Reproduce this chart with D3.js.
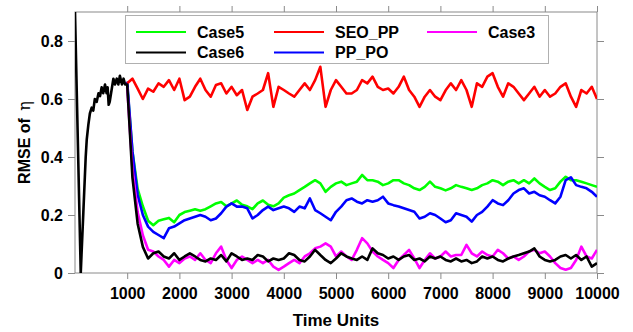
<!DOCTYPE html>
<html>
<head>
<meta charset="utf-8">
<script src="https://cdn.jsdelivr.net/npm/d3@7"></script>
<style>
  body { margin: 0; background: #fff; }
  svg { display: block; font-family: "Liberation Sans", Arial, sans-serif; }
</style>
</head>
<body>
<div id="chart"></div>
<script>
// Data

// warm-up phase (only Case6 is visible there)
const warmTimes = [0, 110, 160, 205, 225, 255, 285, 320, 350, 380, 415, 450, 480, 510, 540, 575, 605, 625, 645, 665, 700, 735, 765, 800, 830, 860, 900, 930, 960];
const case6Warm = [0.90, 0.00, 0.21, 0.40, 0.46, 0.51, 0.55, 0.57, 0.56, 0.60, 0.59, 0.62, 0.61, 0.64, 0.62, 0.65, 0.62, 0.64, 0.58, 0.59, 0.63, 0.67, 0.65, 0.67, 0.65, 0.68, 0.65, 0.67, 0.65];

// sampled every 100 time units, 1000 .. 10000
const timeStart = 1000, timeStep = 100;

const seoPP = [
  0.654, 0.670, 0.636, 0.600, 0.636, 0.625, 0.654, 0.642, 0.665, 0.631,
  0.670, 0.596, 0.608, 0.642, 0.670, 0.631, 0.608, 0.648, 0.654, 0.619,
  0.642, 0.613, 0.631, 0.562, 0.608, 0.619, 0.631, 0.689, 0.573, 0.642,
  0.631, 0.619, 0.608, 0.631, 0.654, 0.631, 0.665, 0.711, 0.573, 0.631,
  0.665, 0.642, 0.619, 0.619, 0.631, 0.665, 0.654, 0.677, 0.642, 0.631,
  0.636, 0.619, 0.642, 0.677, 0.631, 0.608, 0.573, 0.608, 0.631, 0.608,
  0.596, 0.630, 0.654, 0.631, 0.665, 0.631, 0.573, 0.654, 0.642, 0.677,
  0.689, 0.642, 0.608, 0.654, 0.642, 0.619, 0.596, 0.619, 0.642, 0.608,
  0.631, 0.608, 0.619, 0.642, 0.654, 0.608, 0.573, 0.631, 0.619, 0.642,
  0.600
];

const case5 = [
  0.650, 0.420, 0.290, 0.230, 0.180, 0.165, 0.180, 0.185, 0.190, 0.175,
  0.200, 0.210, 0.215, 0.220, 0.215, 0.220, 0.230, 0.240, 0.245, 0.230,
  0.240, 0.250, 0.235, 0.230, 0.220, 0.240, 0.250, 0.235, 0.230, 0.240,
  0.260, 0.268, 0.274, 0.286, 0.297, 0.309, 0.320, 0.309, 0.280, 0.297,
  0.309, 0.315, 0.303, 0.309, 0.315, 0.338, 0.320, 0.320, 0.315, 0.303,
  0.309, 0.320, 0.320, 0.309, 0.303, 0.292, 0.286, 0.297, 0.315, 0.297,
  0.292, 0.285, 0.292, 0.303, 0.297, 0.292, 0.286, 0.292, 0.303, 0.309,
  0.320, 0.315, 0.303, 0.315, 0.320, 0.309, 0.320, 0.309, 0.326, 0.309,
  0.297, 0.286, 0.292, 0.315, 0.332, 0.320, 0.320, 0.315, 0.309, 0.303,
  0.297
];

const ppPO = [
  0.660, 0.420, 0.270, 0.200, 0.160, 0.142, 0.131, 0.120, 0.154, 0.160,
  0.171, 0.182, 0.188, 0.194, 0.200, 0.194, 0.182, 0.188, 0.206, 0.229,
  0.240, 0.229, 0.229, 0.223, 0.188, 0.200, 0.217, 0.229, 0.217, 0.223,
  0.229, 0.223, 0.211, 0.229, 0.223, 0.257, 0.217, 0.206, 0.194, 0.182,
  0.211, 0.229, 0.251, 0.257, 0.246, 0.240, 0.251, 0.246, 0.251, 0.263,
  0.240, 0.234, 0.229, 0.223, 0.217, 0.211, 0.188, 0.194, 0.206, 0.200,
  0.188, 0.175, 0.182, 0.206, 0.200, 0.194, 0.177, 0.200, 0.211, 0.229,
  0.251, 0.240, 0.234, 0.251, 0.274, 0.286, 0.292, 0.274, 0.280, 0.268,
  0.263, 0.251, 0.240, 0.263, 0.320, 0.330, 0.303, 0.297, 0.292, 0.280,
  0.263
];

const case3 = [
  0.640, 0.360, 0.210, 0.130, 0.080, 0.074, 0.057, 0.045, 0.022, 0.045,
  0.034, 0.050, 0.057, 0.045, 0.068, 0.045, 0.034, 0.068, 0.091, 0.045,
  0.017, 0.045, 0.057, 0.045, 0.034, 0.045, 0.034, 0.045, 0.022, 0.011,
  0.022, 0.034, 0.045, 0.034, 0.057, 0.068, 0.085, 0.091, 0.102, 0.091,
  0.057, 0.074, 0.057, 0.045, 0.080, 0.120, 0.102, 0.074, 0.057, 0.045,
  0.034, 0.017, 0.045, 0.062, 0.080, 0.050, 0.017, 0.045, 0.068, 0.050,
  0.057, 0.074, 0.057, 0.062, 0.062, 0.097, 0.068, 0.057, 0.074, 0.062,
  0.057, 0.080, 0.068, 0.050, 0.057, 0.045, 0.057, 0.074, 0.080, 0.068,
  0.074, 0.057, 0.034, 0.017, 0.011, 0.017, 0.045, 0.091, 0.057, 0.050,
  0.080
];

const case6 = [
  0.650, 0.330, 0.170, 0.090, 0.050, 0.068, 0.074, 0.057, 0.050, 0.068,
  0.045, 0.057, 0.068, 0.057, 0.045, 0.040, 0.050, 0.045, 0.062, 0.040,
  0.068, 0.057, 0.045, 0.050, 0.045, 0.062, 0.057, 0.040, 0.050, 0.045,
  0.050, 0.068, 0.062, 0.045, 0.040, 0.057, 0.080, 0.062, 0.045, 0.034,
  0.050, 0.068, 0.057, 0.050, 0.045, 0.057, 0.045, 0.085, 0.068, 0.062,
  0.050, 0.057, 0.045, 0.057, 0.062, 0.045, 0.050, 0.040, 0.057, 0.050,
  0.057, 0.045, 0.040, 0.050, 0.040, 0.045, 0.034, 0.040, 0.057, 0.050,
  0.057, 0.045, 0.040, 0.050, 0.057, 0.062, 0.068, 0.074, 0.085, 0.057,
  0.045, 0.040, 0.045, 0.057, 0.062, 0.050, 0.062, 0.045, 0.057, 0.022,
  0.034
];

const xTicks = [1000, 2000, 3000, 4000, 5000, 6000, 7000, 8000, 9000, 10000];
const yTicks = [0, 0.2, 0.4, 0.6, 0.8];

// legend is laid out column by column, like the original
const legendItems = [
  { name: "Case5", color: "#00ff00" },
  { name: "Case6", color: "#000000" },
  { name: "SEO_PP", color: "#ff0000" },
  { name: "PP_PO", color: "#0000ff" },
  { name: "Case3", color: "#ff00ff" }
];

// ---- build series (time, value) pairs ----
const toPoints = (vals, withWarm) => {
  const pts = vals.map((v, i) => [timeStart + i * timeStep, v]);
  if (withWarm) return warmTimes.map((t, i) => [t, case6Warm[i]]).concat(pts);
  return pts;
};

// drawing order: black ends on top
const series = [
  { name: "Case5", color: "#00ff00", pts: toPoints(case5, false) },
  { name: "PP_PO", color: "#0000ff", pts: toPoints(ppPO, false) },
  { name: "Case3", color: "#ff00ff", pts: toPoints(case3, false) },
  { name: "SEO_PP", color: "#ff0000", pts: toPoints(seoPP, false) },
  { name: "Case6", color: "#000000", pts: toPoints(case6, true) }
];

const width = 633, height = 332;
const margin = { top: 12, right: 36, bottom: 59, left: 75 };
const innerW = width - margin.left - margin.right;
const innerH = height - margin.top - margin.bottom;
const frameColor = "#8a8a8a";

const svg = d3.select("#chart").append("svg")
  .attr("width", width)
  .attr("height", height);

const x = d3.scaleLinear().domain([0, 10000]).range([margin.left, margin.left + innerW]);
const y = d3.scaleLinear().domain([0, 0.9]).range([margin.top + innerH, margin.top]);

svg.append("clipPath").attr("id", "plot-clip")
  .append("rect")
  .attr("x", margin.left).attr("y", margin.top)
  .attr("width", innerW).attr("height", innerH);

// frame
svg.append("rect")
  .attr("x", margin.left).attr("y", margin.top)
  .attr("width", innerW).attr("height", innerH)
  .attr("fill", "none")
  .attr("stroke", frameColor)
  .attr("stroke-width", 1);

// axes (ticks outward on all four sides)
const styleAxis = g => {
  g.select(".domain").remove();
  g.selectAll(".tick line").attr("stroke", frameColor);
  g.selectAll(".tick text")
    .attr("fill", "#000")
    .attr("font-size", 16)
    .attr("font-weight", "bold");
};

svg.append("g")
  .attr("transform", `translate(0,${margin.top + innerH})`)
  .call(d3.axisBottom(x).tickValues(xTicks).tickSize(6).tickPadding(9).tickFormat(d3.format("d")))
  .call(styleAxis);

svg.append("g")
  .attr("transform", `translate(0,${margin.top})`)
  .call(d3.axisTop(x).tickValues(xTicks).tickSize(6).tickFormat(""))
  .call(styleAxis);

svg.append("g")
  .attr("transform", `translate(${margin.left},0)`)
  .call(d3.axisLeft(y).tickValues(yTicks).tickSize(7).tickPadding(5).tickFormat(d => d === 0 ? "0" : d3.format(".1f")(d)))
  .call(styleAxis);

svg.append("g")
  .attr("transform", `translate(${margin.left + innerW},0)`)
  .call(d3.axisRight(y).tickValues(yTicks).tickSize(7).tickFormat(""))
  .call(styleAxis);

// lines
const line = d3.line()
  .x(d => x(d[0]))
  .y(d => y(d[1]));

svg.append("g")
  .attr("clip-path", "url(#plot-clip)")
  .selectAll("path")
  .data(series)
  .join("path")
  .attr("fill", "none")
  .attr("stroke", d => d.color)
  .attr("stroke-width", 2.6)
  .attr("stroke-linejoin", "round")
  .attr("d", d => line(d.pts));

// legend
const legend = svg.append("g");
legend.append("rect")
  .attr("x", 125.5).attr("y", 15.5)
  .attr("width", 423).attr("height", 48)
  .attr("fill", "#fff")
  .attr("stroke", "#b0b0b0");

const colX = [136, 274, 427];
const rowY = [32, 52.5];

const item = legend.selectAll("g.item")
  .data(legendItems)
  .join("g")
  .attr("class", "item")
  .attr("transform", (d, i) => `translate(${colX[Math.floor(i / 2)]},${rowY[i % 2]})`);

item.append("line")
  .attr("x1", 0).attr("x2", 50)
  .attr("stroke", d => d.color)
  .attr("stroke-width", 2);

item.append("text")
  .attr("x", 61)
  .attr("dy", "0.35em")
  .attr("font-size", 16)
  .attr("font-weight", "bold")
  .text(d => d.name);

// axis titles
svg.append("text")
  .attr("x", margin.left + innerW / 2)
  .attr("y", 326)
  .attr("text-anchor", "middle")
  .attr("font-size", 17)
  .attr("font-weight", "bold")
  .text("Time Units");

const yTitle = svg.append("text")
  .attr("transform", `translate(30,${margin.top + innerH / 2}) rotate(-90)`)
  .attr("text-anchor", "middle")
  .attr("font-size", 16)
  .attr("font-weight", "bold");
yTitle.append("tspan").text("RMSE of ");
yTitle.append("tspan")
  .attr("font-weight", "normal")
  .attr("font-family", "'DejaVu Serif', serif")
  .attr("dx", 3)
  .text("η");
</script>
</body>
</html>
